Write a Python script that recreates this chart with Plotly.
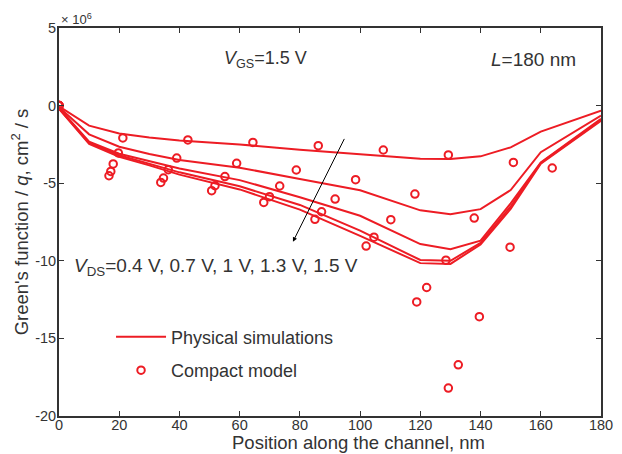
import plotly.graph_objects as go

RED = "#ED1C24"
INK = "#333333"
FONT = "Liberation Sans, Arial, sans-serif"

# ---- Physical simulations (Green's function, x10^6 cm^2/s) ----
x_sim = [0, 10, 20, 30, 40, 60, 80, 100, 120, 130, 140, 150, 160, 180]
sim_04 = [-0.05, -1.29, -1.80, -2.05, -2.25, -2.50, -2.85, -3.15, -3.42, -3.44, -3.27, -2.69, -1.68, -0.32]
sim_07 = [-0.10, -1.85, -2.65, -3.12, -3.50, -4.00, -4.73, -5.45, -6.75, -7.00, -6.67, -5.44, -3.00, -0.65]
sim_10 = [-0.15, -2.32, -3.10, -3.60, -4.05, -4.80, -5.90, -7.10, -8.92, -9.25, -8.70, -6.30, -3.66, -0.85]
sim_13 = [-0.20, -2.40, -3.20, -3.75, -4.30, -5.20, -6.40, -8.06, -9.95, -10.00, -8.85, -6.50, -3.70, -0.92]
sim_15 = [-0.20, -2.47, -3.30, -3.85, -4.45, -5.40, -6.70, -8.39, -10.15, -10.20, -8.95, -6.65, -3.75, -0.97]

# ---- Compact model points ----
mx_04 = [0, 21.2, 42.8, 64.4, 86.1, 107.7, 129.3, 150.9]
my_04 = [0, -2.08, -2.21, -2.37, -2.58, -2.86, -3.18, -3.66]
mx_07 = [0, 19.7, 39.1, 59.0, 78.8, 98.5, 118.2, 137.9, 163.8]
my_07 = [0, -3.05, -3.38, -3.72, -4.15, -4.77, -5.70, -7.25, -4.02]
mx_10 = [0, 18.0, 36.3, 55.1, 73.3, 91.7, 110.2, 128.5, 149.8]
my_10 = [0, -3.76, -4.13, -4.57, -5.18, -6.02, -7.35, -9.96, -9.12]
mx_13 = [0, 17.2, 34.7, 51.8, 69.9, 87.2, 104.6, 122.1, 139.6]
my_13 = [0, -4.24, -4.67, -5.16, -5.87, -6.84, -8.48, -11.72, -13.60]
mx_15 = [0, 16.6, 33.8, 50.7, 68.0, 85.0, 102.0, 118.8, 129.3, 132.6]
my_15 = [0, -4.52, -4.95, -5.48, -6.24, -7.33, -9.05, -12.65, -18.20, -16.70]

x_ticks = [0, 20, 40, 60, 80, 100, 120, 140, 160, 180]
y_ticks = [-20, -15, -10, -5, 0, 5]
y_ticktext = ["-20", "-15", "-10", "-5", "0", "5"]

fig = go.Figure()

for i, ys in enumerate([sim_04, sim_07, sim_10, sim_13, sim_15]):
    fig.add_trace(go.Scatter(
        x=x_sim, y=ys, mode="lines", name="Physical simulations",
        line=dict(color=RED, width=2), legendgroup="sim", showlegend=(i == 0)))

for i, (mx, my) in enumerate([(mx_04, my_04), (mx_07, my_07), (mx_10, my_10),
                               (mx_13, my_13), (mx_15, my_15)]):
    fig.add_trace(go.Scatter(
        x=mx, y=my, mode="markers", name="Compact model",
        marker=dict(symbol="circle-open", size=7.5, color=RED, line=dict(width=2, color=RED)),
        legendgroup="model", showlegend=(i == 0)))

axis_common = dict(
    showline=True, linecolor=INK, linewidth=2, mirror="ticks",
    ticks="inside", ticklen=5, tickwidth=1.2, tickcolor=INK,
    showgrid=False, zeroline=False, automargin=False,
    tickfont=dict(family=FONT, size=14.5, color=INK),
)

fig.update_xaxes(range=[0, 180], tickvals=x_ticks, ticklabelstandoff=-5, **axis_common)
fig.update_yaxes(range=[-20, 5], tickvals=y_ticks, ticktext=y_ticktext, ticklabelstandoff=-2,
                 title=dict(text="Green's function / <i>q</i>, cm<sup>2</sup> / s", standoff=8,
                            font=dict(family=FONT, size=18.5, color=INK)),
                 **axis_common)

# x-axis title (placed as in the original, slightly right of centre)
fig.add_annotation(xref="paper", yref="paper", x=0.552, y=-0.069, xanchor="center", yanchor="middle",
                   text="Position along the channel, nm", showarrow=False,
                   font=dict(family=FONT, size=18.5, color=INK))
fig.add_annotation(xref="paper", yref="paper", x=0, y=1.024, xanchor="left", yanchor="middle",
                   text="× 10<sup>6</sup>", showarrow=False,
                   font=dict(family=FONT, size=13, color=INK))
fig.add_annotation(x=54, y=3, xanchor="left", yanchor="middle",
                   text="<i>V</i><sub>GS</sub>=1.5 V", showarrow=False,
                   font=dict(family=FONT, size=18, color=INK))
fig.add_annotation(x=142.8, y=3, xanchor="left", yanchor="middle",
                   text="<i>L</i>=180 nm", showarrow=False,
                   font=dict(family=FONT, size=19, color=INK))
fig.add_annotation(x=4.4, y=-10.4, xanchor="left", yanchor="middle",
                   text="<i>V</i><sub>DS</sub>=0.4 V, 0.7 V, 1 V, 1.3 V, 1.5 V", showarrow=False,
                   font=dict(family=FONT, size=19, color=INK))
fig.add_annotation(x=77.7, y=-8.77, ax=95.0, ay=-2.05, axref="x", ayref="y",
                   text="", showarrow=True, arrowhead=2, arrowsize=0.9, arrowwidth=1,
                   arrowcolor="black")

# The page body adds an 8 px margin, so the figure is sized to fit the window.
fig.update_layout(
    width=614, height=446,
    margin=dict(l=51, r=21, t=20, b=38),
    paper_bgcolor="white", plot_bgcolor="white",
    font=dict(family=FONT, color=INK),
    legend=dict(x=0.096, y=0.251, xanchor="left", yanchor="top",
                bgcolor="rgba(0,0,0,0)", borderwidth=0,
                font=dict(family=FONT, size=18, color=INK),
                tracegroupgap=7, itemwidth=50),
)

fig.write_html("out.html")
